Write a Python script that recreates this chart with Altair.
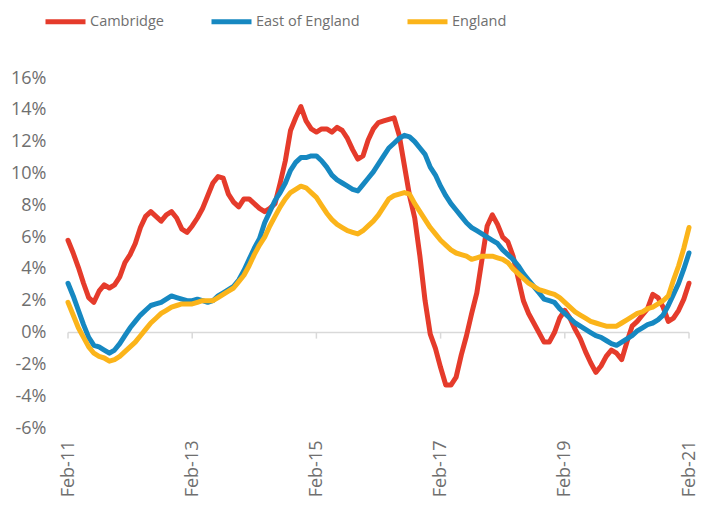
import altair as alt
import pandas as pd

tick_labels = ["Feb-11", "Feb-13", "Feb-15", "Feb-17", "Feb-19", "Feb-21"]
tick_months = [0, 24, 48, 72, 96, 120]
series_names = ["Cambridge", "East of England", "England"]
colors = ["#e53b2b", "#1688c1", "#fbb41a"]

cambridge = [
    5.8, 5.0, 4.1, 3.1, 2.2, 1.9, 2.6, 3.0, 2.8, 3.0,
    3.5, 4.4, 4.9, 5.6, 6.6, 7.3, 7.6, 7.3, 7.0, 7.4,
    7.6, 7.2, 6.5, 6.3, 6.7, 7.2, 7.8, 8.6, 9.4, 9.8,
    9.7, 8.7, 8.2, 7.9, 8.4, 8.4, 8.1, 7.8, 7.6, 7.8,
    8.1, 9.4, 10.8, 12.7, 13.5, 14.2, 13.3, 12.8, 12.6, 12.8,
    12.8, 12.6, 12.9, 12.7, 12.2, 11.5, 10.9, 11.1, 12.1, 12.8,
    13.2, 13.3, 13.4, 13.5, 12.4, 10.5, 8.6, 7.2, 4.8, 2.0,
    -0.1, -1.0, -2.2, -3.3, -3.3, -2.8, -1.4, -0.2, 1.2, 2.5,
    4.6, 6.7, 7.4, 6.8, 6.0, 5.7, 4.8, 3.4, 2.0, 1.2,
    0.6, 0.0, -0.6, -0.6, 0.0, 0.9, 1.4, 0.9, 0.2, -0.4,
    -1.2, -1.9, -2.5, -2.1, -1.5, -1.1, -1.3, -1.7, -0.6, 0.4,
    0.7, 1.1, 1.5, 2.4, 2.2, 1.6, 0.7, 0.9, 1.4, 2.1,
    3.1,
]

east_of_england = [
    3.1, 2.3, 1.4, 0.5, -0.3, -0.8, -0.9, -1.1, -1.3, -1.1,
    -0.7, -0.2, 0.3, 0.7, 1.1, 1.4, 1.7, 1.8, 1.9, 2.1,
    2.3, 2.2, 2.1, 2.0, 2.0, 2.1, 2.0, 1.9, 2.0, 2.3,
    2.5, 2.7, 2.9, 3.3, 3.9, 4.6, 5.3, 5.9, 6.9, 7.6,
    8.3, 8.8, 9.4, 10.2, 10.7, 11.0, 11.0, 11.1, 11.1, 10.8,
    10.4, 9.9, 9.6, 9.4, 9.2, 9.0, 8.9, 9.3, 9.7, 10.1,
    10.6, 11.1, 11.6, 11.9, 12.2, 12.4, 12.3, 12.0, 11.6, 11.2,
    10.4, 9.9, 9.2, 8.6, 8.1, 7.7, 7.3, 6.9, 6.6, 6.4,
    6.2, 6.0, 5.8, 5.6, 5.2, 4.9, 4.6, 4.2, 3.7, 3.3,
    2.9, 2.5, 2.1, 2.0, 1.9, 1.5, 1.2, 0.9, 0.6, 0.4,
    0.2, 0.0, -0.2, -0.3, -0.5, -0.7, -0.8, -0.6, -0.4, -0.2,
    0.1, 0.3, 0.5, 0.6, 0.8, 1.1, 1.7, 2.4, 3.1, 4.0,
    5.0,
]

england = [
    1.9, 1.1, 0.3, -0.3, -0.9, -1.3, -1.5, -1.6, -1.8, -1.7,
    -1.5, -1.2, -0.9, -0.6, -0.2, 0.2, 0.6, 0.9, 1.2, 1.4,
    1.6, 1.7, 1.8, 1.8, 1.8, 1.9, 2.0, 2.0, 2.0, 2.2,
    2.4, 2.6, 2.8, 3.2, 3.6, 4.2, 4.9, 5.5, 6.0, 6.7,
    7.3, 7.9, 8.4, 8.8, 9.0, 9.2, 9.1, 8.8, 8.5, 8.0,
    7.5, 7.1, 6.8, 6.6, 6.4, 6.3, 6.2, 6.4, 6.7, 7.0,
    7.4, 7.9, 8.4, 8.6, 8.7, 8.8, 8.7, 8.1, 7.6, 7.1,
    6.6, 6.2, 5.8, 5.5, 5.2, 5.0, 4.9, 4.8, 4.6, 4.7,
    4.8, 4.8, 4.8, 4.7, 4.6, 4.4, 4.0, 3.7, 3.4, 3.1,
    2.9, 2.7, 2.6, 2.5, 2.4, 2.2, 1.9, 1.6, 1.3, 1.1,
    0.9, 0.7, 0.6, 0.5, 0.4, 0.4, 0.4, 0.6, 0.8, 1.0,
    1.2, 1.3, 1.5, 1.6, 1.8, 2.0, 2.3, 3.3, 4.2, 5.3,
    6.6,
]

y_ticks = [-6, -4, -2, 0, 2, 4, 6, 8, 10, 12, 14, 16]

rows = []
for name, vals in zip(series_names, [cambridge, east_of_england, england]):
    for i, v in enumerate(vals):
        rows.append({"month": i, "value": v, "series": name})
df = pd.DataFrame(rows)

label_arr = "[" + ",".join("'%s'" % t for t in tick_labels) + "]"
FONT = "Open Sans"
LABEL_COLOR = "#6f6f6f"

x_scale = alt.Scale(domain=[0, 120], nice=False, zero=False)
y_scale = alt.Scale(domain=[-6, 16], nice=False)

x_axis = alt.Axis(
    values=tick_months,
    labelExpr=label_arr + "[round(datum.value/24)]",
    labelAngle=-90,
    labelAlign="right",
    labelBaseline="middle",
    labelPadding=12,
    labelFontSize=18,
    labelFont=FONT,
    labelColor=LABEL_COLOR,
    domain=False,
    ticks=False,
    grid=False,
    title=None,
)
y_axis = alt.Axis(
    values=y_ticks,
    labelExpr="datum.value + '%'",
    labelPadding=22,
    labelFontSize=18,
    labelFont=FONT,
    labelColor=LABEL_COLOR,
    domain=False,
    ticks=False,
    grid=False,
    title=None,
)

zero_df = pd.DataFrame({"x": [0], "x2": [120], "y": [0]})
zero_line = alt.Chart(zero_df).mark_rule(color="#d9d9d9", strokeWidth=1.5).encode(
    x=alt.X("x:Q", scale=x_scale, axis=x_axis, title=None),
    x2="x2:Q",
    y=alt.Y("y:Q", scale=y_scale, axis=y_axis, title=None),
)

tick_df = pd.DataFrame({"x": tick_months, "y": [0] * 6, "y2": [-0.38] * 6})
tick_marks = alt.Chart(tick_df).mark_rule(color="#d9d9d9", strokeWidth=1.5).encode(
    x=alt.X("x:Q", scale=x_scale, axis=x_axis, title=None),
    y=alt.Y("y:Q", scale=y_scale, axis=y_axis, title=None),
    y2="y2:Q",
)

lines = alt.Chart(df).mark_line(strokeWidth=5, strokeCap="round", strokeJoin="round").encode(
    x=alt.X("month:Q", scale=x_scale, axis=x_axis, title=None),
    y=alt.Y("value:Q", scale=y_scale, axis=y_axis, title=None),
    color=alt.Color(
        "series:N",
        scale=alt.Scale(domain=series_names, range=colors),
        sort=series_names,
        legend=alt.Legend(
            title=None,
            orient="none",
            legendX=-25,
            legendY=-79,
            direction="horizontal",
            symbolType="stroke",
            symbolSize=1600,
            symbolStrokeWidth=5,
            columnPadding=37,
            labelOffset=2,
            labelFontSize=14.5,
            labelFont=FONT,
            labelColor=LABEL_COLOR,
        ),
    ),
)

chart = alt.layer(zero_line, tick_marks, lines).properties(
    width=621,
    height=350,
    autosize=alt.AutoSizeParams(type="none"),
    padding={"left": 60, "top": 70, "right": 11, "bottom": 75},
).configure_view(stroke=None)

chart.save("out.html", embed_options={"renderer": "svg", "actions": False})
